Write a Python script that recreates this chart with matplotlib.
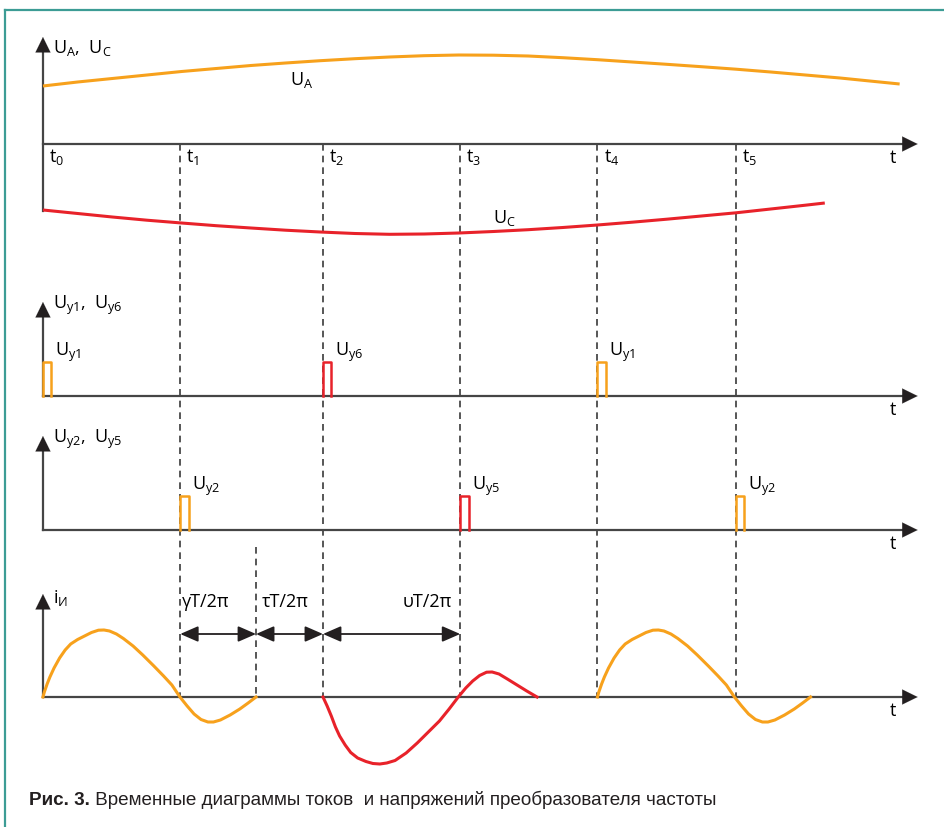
import matplotlib
matplotlib.use('Agg')
import matplotlib.pyplot as plt
import matplotlib.transforms as mtransforms

plt.rcParams['font.family'] = ['Open Sans', 'DejaVu Sans']
plt.rcParams['mathtext.fontset'] = 'custom'
plt.rcParams['mathtext.rm'] = 'Open Sans'
plt.rcParams['mathtext.default'] = 'rm'

# switching instants (time units)
t_marks = [0, 0.99, 2.02, 3.01, 4.00, 5.00]
t_names = ['$t_{0}$', '$t_{1}$', '$t_{2}$', '$t_{3}$', '$t_{4}$', '$t_{5}$']
t_gap = 1.537  # end of the first current lobe (gamma interval)

# supply voltages, panel 1
ua_t = [0, 0.25, 0.5, 0.75, 1, 1.25, 1.5, 1.75, 2, 2.25, 2.5, 2.75, 3, 3.25, 3.5,
        3.75, 4, 4.25, 4.5, 4.75, 5, 5.25, 5.5, 5.75, 6.0, 6.18]
ua_v = [0.58, 0.62, 0.655, 0.69, 0.725, 0.755, 0.785, 0.81, 0.833, 0.853, 0.87, 0.883,
        0.89, 0.888, 0.88, 0.863, 0.843, 0.82, 0.797, 0.773, 0.748, 0.72, 0.69, 0.66,
        0.625, 0.60]
uc_t = [0, 0.25, 0.5, 0.75, 1, 1.25, 1.5, 1.75, 2, 2.25, 2.5, 2.75, 3, 3.25, 3.5,
        3.75, 4, 4.25, 4.5, 4.75, 5, 5.25, 5.5, 5.64]
uc_v = [-0.66, -0.695, -0.73, -0.762, -0.79, -0.817, -0.84, -0.862, -0.88, -0.895,
        -0.903, -0.9, -0.89, -0.875, -0.857, -0.835, -0.81, -0.782, -0.752, -0.72,
        -0.688, -0.65, -0.612, -0.59]

# control pulses
pulse_w = 0.06
pulse_h = 0.34
pulses_16 = [(t_marks[0], 'o', '$U_{у1}$'), (t_marks[2], 'r', '$U_{у6}$'), (t_marks[4], 'o', '$U_{у1}$')]
pulses_25 = [(t_marks[1], 'o', '$U_{у2}$'), (t_marks[3], 'r', '$U_{у5}$'), (t_marks[5], 'o', '$U_{у2}$')]

# inverter current lobes (time offset from lobe start, value)
lobe_o_t = [0, 0.01, 0.03, 0.05, 0.08, 0.12, 0.16, 0.20, 0.25, 0.30, 0.35, 0.40, 0.44,
            0.48, 0.53, 0.58, 0.65, 0.72, 0.80, 0.87, 0.93, 0.988, 1.04, 1.09, 1.14,
            1.19, 1.23, 1.28, 1.35, 1.42, 1.48, 1.537]
lobe_o_v = [0, 0.05, 0.13, 0.20, 0.29, 0.39, 0.47, 0.53, 0.575, 0.61, 0.645, 0.668, 0.67,
            0.66, 0.63, 0.585, 0.51, 0.42, 0.31, 0.21, 0.12, 0, -0.09, -0.17, -0.225,
            -0.25, -0.25, -0.23, -0.18, -0.12, -0.06, 0]
lobe_r_t = [0, 0.03, 0.06, 0.09, 0.12, 0.16, 0.20, 0.25, 0.31, 0.36, 0.41, 0.46, 0.52,
            0.60, 0.68, 0.76, 0.84, 0.91, 0.976, 1.03, 1.08, 1.13, 1.18, 1.22, 1.27,
            1.33, 1.40, 1.47, 1.544]
lobe_r_v = [0, -0.09, -0.19, -0.30, -0.39, -0.48, -0.555, -0.61, -0.645, -0.665, -0.67,
            -0.66, -0.635, -0.56, -0.46, -0.35, -0.24, -0.12, 0, 0.09, 0.16, 0.215,
            0.248, 0.25, 0.23, 0.18, 0.12, 0.06, 0]
lobes = [(t_marks[0], 'o'), (t_marks[2], 'r'), (t_marks[4], 'o')]

colors = {'o': '#F7A11C', 'r': '#E8222A'}
axis_c = '#454545'
dash_c = '#3a3a3a'
frame_c = '#3C9C95'

# panel layout: baseline row, arrow tip row
base_rows = [145, 397, 531, 698]
tip_rows = [38, 303, 437, 595]
t_end = 6.31

fig = plt.figure(figsize=(9.44, 8.28), dpi=100)
ax = fig.add_axes([0, 0, 1, 1])
ax.set_xlim(-0.31, 6.50)
ax.set_ylim(828, 0)
ax.axis('off')


def panel(b):
    return mtransforms.Affine2D().scale(1, -100).translate(0, b) + ax.transData


trs = [panel(b) for b in base_rows]
fs = 13

# frame
ax.plot([0.0053, 1.0], [0.9867, 0.9867], color=frame_c, lw=1.6, transform=ax.transAxes, clip_on=False)
ax.plot([0.0053, 0.0053], [0.9867, 0.0], color=frame_c, lw=1.6, transform=ax.transAxes, clip_on=False)

# dashed markers
for tm in t_marks[1:]:
    ax.plot([tm, tm], [base_rows[0], base_rows[3]], color=dash_c, lw=1.2, ls=(0, (4, 3)))
ax.plot([t_gap, t_gap], [548, base_rows[3]], color=dash_c, lw=1.2, ls=(0, (4, 3)))

blk = dict(arrowstyle='-|>,head_length=0.55,head_width=0.27', mutation_scale=20,
           color='#231F20', lw=0.1, shrinkA=0, shrinkB=0)
for i, (b, tip) in enumerate(zip(base_rows, tip_rows)):
    # time axis
    ax.plot([0, t_end - 0.1], [b, b], color=axis_c, lw=1.6)
    ax.annotate('', xy=(t_end, b), xytext=(t_end - 0.12, b), arrowprops=blk)
    ax.text(6.111, b + 18, 't', fontsize=fs, va='baseline', ha='left')
    # value axis
    y_low = 212 if i == 0 else b
    ax.plot([0, 0], [y_low, tip + 14], color=axis_c, lw=1.6)
    ax.annotate('', xy=(0, tip), xytext=(0, tip + 16), arrowprops=blk)

# panel 1
tr = trs[0]
ax.plot(ua_t, ua_v, color=colors['o'], lw=2.2, transform=tr, solid_capstyle='butt')
ax.plot(uc_t, uc_v, color=colors['r'], lw=2.2, transform=tr, solid_capstyle='butt')
ax.text(0.072, 0.92, '$U_{A},\\ U_{C}$', transform=tr, fontsize=fs, va='baseline')
ax.text(1.782, 0.60, '$U_{A}$', transform=tr, fontsize=fs, va='baseline')
ax.text(3.247, -0.78, '$U_{C}$', transform=tr, fontsize=fs, va='baseline')
for tm, nm in zip(t_marks, t_names):
    ax.text(tm + 0.045, -0.17, nm, transform=tr, fontsize=fs, va='baseline')

# panels 2 and 3
for tr, pulses, title in [(trs[1], pulses_16, '$U_{у1},\\ U_{у6}$'),
                          (trs[2], pulses_25, '$U_{у2},\\ U_{у5}$')]:
    ax.text(0.072, 0.88, title, transform=tr, fontsize=fs, va='baseline')
    for tp, c, lab in pulses:
        ax.plot([tp, tp, tp + pulse_w, tp + pulse_w], [0, pulse_h, pulse_h, 0],
                color=colors[c], lw=1.8, transform=tr)
        ax.text(tp + 0.085, 0.41, lab, transform=tr, fontsize=fs, va='baseline')

# panel 4: current
tr = trs[3]
for t0, c in lobes:
    lt, lv = (lobe_o_t, lobe_o_v) if c == 'o' else (lobe_r_t, lobe_r_v)
    ax.plot([t0 + x for x in lt], lv, color=colors[c], lw=2.2, transform=tr)
ax.text(0.072, 0.95, '$i_{И}$', transform=tr, fontsize=fs, va='baseline')

dims = [(t_marks[1], t_gap, 'γT/2π', 'left', t_marks[1] + 0.01),
        (t_gap, t_marks[2], 'τT/2π', 'left', t_gap + 0.04),
        (t_marks[2], t_marks[3], 'υT/2π', 'right', t_marks[3] - 0.06)]
for a, b, lab, ha, tx in dims:
    ax.annotate('', xy=(b, 0.63), xytext=(a, 0.63), xycoords=tr,
                arrowprops=dict(arrowstyle='<|-|>,head_length=0.55,head_width=0.24',
                                mutation_scale=20, color='#231F20', lw=1.3,
                                shrinkA=0, shrinkB=0))
    ax.text(tx, 0.91, lab, transform=tr, fontsize=fs, va='baseline', ha=ha)

# caption
cap_font = ['Liberation Sans', 'DejaVu Sans']
bold = ax.text(-0.10, 805, 'Рис. 3.', fontsize=13.6, fontweight='bold', family=cap_font,
               va='baseline', color='#231F20')
ax.annotate(' Временные диаграммы токов  и напряжений преобразователя частоты',
            xy=(1, 805), xycoords=(bold, ax.transData), fontsize=13.6, family=cap_font,
            va='baseline', ha='left', color='#231F20')

fig.savefig('out.png', dpi=100)
